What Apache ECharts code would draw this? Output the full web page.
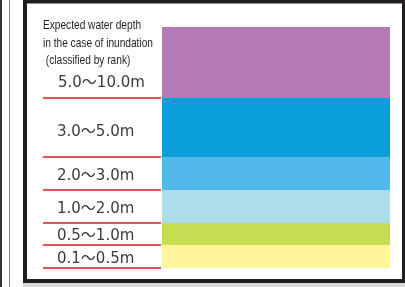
<!DOCTYPE html>
<html>
<head>
<meta charset="utf-8">
<script src="https://cdn.jsdelivr.net/npm/echarts@6/dist/echarts.min.js"></script>
<style>
  html, body { margin: 0; padding: 0; background: #fff; }
  #chart { width: 405px; height: 287px; }
</style>
</head>
<body>
<div id="chart"></div>
<script>
// depth ranks, top to bottom
var ranks = ['5.0〜10.0m', '3.0〜5.0m', '2.0〜3.0m', '1.0〜2.0m', '0.5〜1.0m', '0.1〜0.5m'];
// drawn height of each band (px in the original legend)
var bandHeights = [71, 59, 33, 33, 22, 23];
var bandColors = ['#b37ab5', '#089eda', '#50b9e9', '#acdee9', '#c8dc52', '#fff69a'];
var titleLines = ['Expected water depth', 'in the case of inundation', ' (classified by rank)'];

var total = bandHeights.reduce(function (a, b) { return a + b; }, 0);
var bounds = [];
var acc = 0;
bandHeights.forEach(function (h) { acc += h; bounds.push(acc); });

var chart = echarts.init(document.getElementById('chart'));

var series = [];
ranks.forEach(function (name, i) {
    // coloured band
    series.push({
        name: name,
        type: 'bar',
        stack: 'band',
        xAxisIndex: 0,
        yAxisIndex: 0,
        barWidth: '100%',
        silent: true,
        itemStyle: { color: bandColors[i] },
        data: [bandHeights[i]]
    });
    // label cell on the left
    series.push({
        name: name + ' label',
        type: 'bar',
        stack: 'label',
        xAxisIndex: 1,
        yAxisIndex: 1,
        barWidth: '100%',
        silent: true,
        itemStyle: { color: 'rgba(0,0,0,0)' },
        label: {
            show: true,
            position: i === 0 ? [15, 54] : 'insideLeft',
            distance: 14,
            offset: i === 1 ? [0, 5] : [0, 2.5],
            verticalAlign: 'middle',
            formatter: name,
            color: '#3b3b3b',
            fontSize: 15,
            fontFamily: '"DejaVu Sans", "Noto Sans CJK JP", sans-serif'
        },
        markLine: i === 0 ? {
            silent: true,
            symbol: 'none',
            label: { show: false },
            lineStyle: { color: '#e8505a', width: 2, type: 'solid' },
            data: bounds.map(function (b) { return { yAxis: b }; })
        } : undefined,
        data: [bandHeights[i]]
    });
});

var option = {
    animation: false,
    grid: [
        { left: 162, right: 15, top: 27, bottom: 19 },
        { left: 43, width: 118, top: 27, bottom: 19 }
    ],
    xAxis: [
        { type: 'category', gridIndex: 0, data: ['rank'], show: false },
        { type: 'category', gridIndex: 1, data: ['rank'], show: false }
    ],
    yAxis: [
        { type: 'value', gridIndex: 0, min: 0, max: total, inverse: true, show: false },
        { type: 'value', gridIndex: 1, min: 0, max: total, inverse: true, show: false }
    ],
    graphic: [
        { type: 'rect', shape: { x: 0, y: 0, width: 2, height: 287 }, style: { fill: '#333' }, silent: true },
        { type: 'rect', shape: { x: 9, y: 0, width: 1, height: 287 }, style: { fill: '#888' }, silent: true },
        { type: 'rect', shape: { x: 25, y: 1.5, width: 379, height: 279.5 },
          style: { fill: 'none', stroke: '#231f20', lineWidth: 4 }, silent: true },
        { type: 'rect', shape: { x: 23, y: 283, width: 382, height: 4 }, style: { fill: '#d8d8d8' }, silent: true },
        {
            // condensed title: Arial-metric font squeezed horizontally
            type: 'text',
            x: 43,
            y: 17,
            scaleX: 0.78,
            silent: true,
            style: {
                text: titleLines.join('\n'),
                fill: '#231f20',
                font: '13px "Liberation Sans", Arial, sans-serif',
                lineHeight: 17.5,
                verticalAlign: 'top'
            }
        }
    ],
    series: series
};

chart.setOption(option);
window.addEventListener('resize', chart.resize);
</script>
</body>
</html>
